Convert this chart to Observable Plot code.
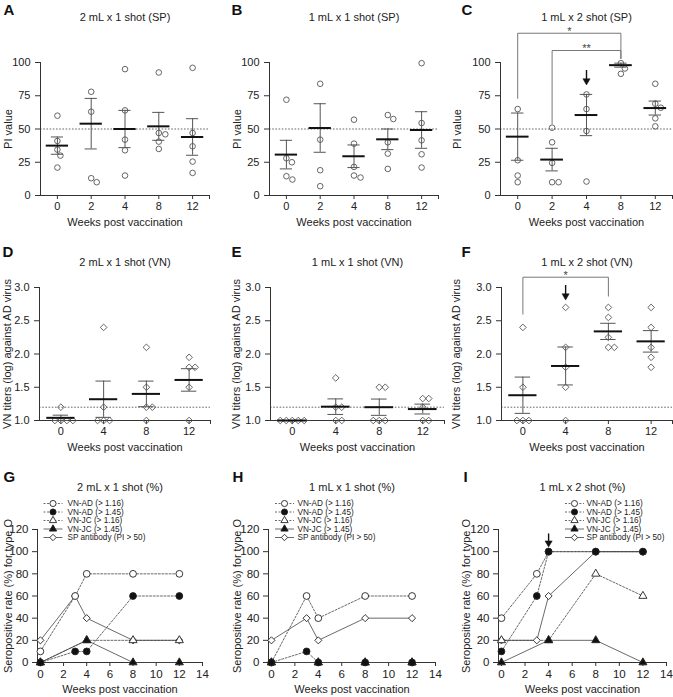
<!DOCTYPE html>
<html><head><meta charset="utf-8">
<script src="https://cdn.jsdelivr.net/npm/d3@7"></script>
<script src="https://cdn.jsdelivr.net/npm/@observablehq/plot@0.6"></script>
<style>
html,body{margin:0;padding:0;background:#fff;}
#wrap{position:relative;width:673px;height:697px;overflow:hidden;background:#fff;}
</style></head><body><div id="wrap"></div>
<script>
const FONT = "'Liberation Sans', Arial, Helvetica, sans-serif";

// ---------------- data ----------------
const spWeeks = ["0", "2", "4", "8", "12"];
const spThreshold = 50;
const spA = [[60, 41, 34.5, 30, 21], [78, 63, 13, 10], [95, 64, 42, 34, 15], [92.5, 47, 46, 40.5, 35], [96, 47, 37, 25.5, 17]];
const spAMean = [37.5, 54, 50, 52, 44];
const spASem = [6.5, 19, 14, 10.5, 13.75];
const spB = [[72, 28, 25, 14.5, 12], [84, 42, 19, 7], [57, 39, 21.5, 15, 13.5], [60.5, 57.5, 40, 31.5, 20], [99.5, 54.5, 41.5, 31, 21]];
const spBMean = [30.75, 50.75, 29.5, 42.25, 49.25];
const spBSem = [10.75, 18.25, 8.5, 7.75, 13.75];
const spC = [[65, 26.5, 15, 10], [51, 40, 24.5, 10, 10], [76, 65, 48.5, 10.5], [99.5, 95.5, 91.5], [84, 69, 66, 58, 52]];
const spCMean = [44.25, 27, 60.5, 98, 65.75];
const spCSem = [17.75, 8.5, 15.5, 1.5, 5.25];

const vnWeeks = ["0", "4", "8", "12"];
const vnThreshold = 1.2;
const vnD = [[1.2, 1, 1, 1, 1], [2.4, 1.2, 1, 1, 1], [2.1, 1.5, 1.2, 1.2, 1], [1.95, 1.8, 1.8, 1.5, 1]];
const vnE = [[1, 1, 1, 1, 1], [1.64, 1.2, 1.2, 1, 1], [1.5, 1.5, 1, 1, 1], [1.33, 1.33, 1.2, 1, 1]];
const vnF = [[2.4, 1.5, 1, 1, 1], [2.7, 2.1, 1.8, 1.5, 1], [2.7, 2.55, 2.25, 2.1, 2.1], [2.7, 2.4, 2.1, 1.95, 1.8]];

const seroWeeksAD = [0, 3, 4, 8, 12];
const seroWeeksJC = [0, 4, 8, 12];
const seroLabels = ["VN-AD (> 1.16)", "VN-AD (> 1.45)", "VN-JC (> 1.16)", "VN-JC (> 1.45)", "SP antibody (PI > 50)"];
const gAdLow = [10, 60, 80, 80, 80];
const gAdHigh = [0, 10, 10, 60, 60];
const gJcLow = [0, 20, 20, 20];
const gJcHigh = [0, 20, 0, 0];
const gSp = [20, 60, 40, 20, 20];
const hAdLow = [0, 60, 40, 60, 60];
const hAdHigh = [0, 10, 0, 0, 0];
const hJcLow = [0, 0, 0, 0];
const hJcHigh = [0, 0, 0, 0];
const hSp = [20, 40, 20, 40, 40];
const iAdLow = [40, 80, 100, 100, 100];
const iAdHigh = [10, 60, 100, 100, 100];
const iJcLow = [20, 20, 80, 60];
const iJcHigh = [0, 20, 20, 0];
const iSp = [20, 20, 60, 100, 100];

const sigC = [{from: 0, to: 3, top: 122, fromEnd: 73, toEnd: 103, label: "*"},
              {from: 1, to: 3, top: 109, fromEnd: 54, toEnd: 103, label: "**"}];
const sigF = [{from: 0, to: 2, top: 3.155, fromEnd: 2.6, toEnd: 2.87, label: "*"}];
const arrowC = {at: 2, top: 94, head: 85.5};
const arrowF = {at: 1, top: 3.03, head: 2.86};
const arrowI = {at: 4, top: 116, head: 107};

// ---------------- layout ----------------
// svg: [left, top, width, height]; frame: [left, top, right, bottom] in page px
const layout = {
  A: {svg: [0, 0, 225, 232], frame: [40, 62, 209, 195], letter: [3, 14], titleY: 17, ylabX: 8},
  B: {svg: [225, 0, 223, 232], frame: [269, 62, 438, 195], letter: [231, 14], titleY: 17, ylabX: 237},
  C: {svg: [448, 0, 225, 232], frame: [500, 62, 672, 195], letter: [461, 14], titleY: 17, ylabX: 457},
  D: {svg: [0, 232, 225, 226], frame: [39, 287, 210, 420], letter: [2, 256], titleY: 262, ylabX: 7},
  E: {svg: [225, 232, 223, 226], frame: [270, 287, 444, 420], letter: [231, 256], titleY: 262, ylabX: 236},
  F: {svg: [448, 232, 225, 226], frame: [501, 287, 672, 420], letter: [461, 256], titleY: 262, ylabX: 456},
  G: {svg: [0, 458, 225, 239], frame: [37, 529, 202, 662], letter: [3, 481], titleY: 487, ylabX: 8, legLine: 52.5, legText: 67, legY: 503},
  H: {svg: [225, 458, 223, 239], frame: [268, 529, 435, 662], letter: [232, 481], titleY: 487, ylabX: 237, legLine: 284, legText: 297, legY: 503},
  I: {svg: [448, 458, 225, 239], frame: [498, 529, 666, 662], letter: [463, 481], titleY: 487, ylabX: 466, legLine: 574, legText: 586, legY: 503}
};

const wrap = document.getElementById("wrap");

function dims(p) {
  const [sx, sy, sw, sh] = p.svg, [fl, ft, fr, fb] = p.frame;
  return {width: sw, height: sh, marginLeft: fl - sx, marginTop: ft - sy, marginRight: sx + sw - fr, marginBottom: sy + sh - fb};
}

function mount(p, chart) {
  chart.style.position = "absolute";
  chart.style.left = p.svg[0] + "px";
  chart.style.top = p.svg[1] + "px";
  wrap.appendChild(chart);
}

function decor(p, letter, title, ylabel) {
  const [fl, ft] = p.frame;
  return [
    Plot.text([letter], {text: d => d, frameAnchor: "top-left", dx: p.letter[0] - fl, dy: p.letter[1] - ft,
      textAnchor: "start", lineAnchor: "bottom", fontWeight: "bold", fontSize: 15, fill: "#111"}),
    Plot.text([title], {text: d => d, frameAnchor: "top", dy: p.titleY - ft, textAnchor: "middle", lineAnchor: "middle", fontSize: 11, fill: "#222"}),
    Plot.text([ylabel], {text: d => d, frameAnchor: "left", dx: p.ylabX - fl, rotate: -90, textAnchor: "middle", lineAnchor: "middle", fontSize: 11, fill: "#222"}),
    Plot.text(["Weeks post vaccination"], {text: d => d, frameAnchor: "bottom", dy: 27, textAnchor: "middle", lineAnchor: "middle", fontSize: 11, fill: "#222"})
  ];
}

function dodge(vals, pxY, minDist) {
  const order = vals.map((_, i) => i).sort((a, b) => vals[b] - vals[a]);
  const placed = [], off = [];
  for (const i of order) {
    const y = vals[i] * pxY;
    let dx = 0;
    for (let k = 0; k < 400; k++) {
      const cands = k === 0 ? [0] : [k * 0.5, -k * 0.5];
      const ok = cands.find(c => placed.every(q => Math.hypot(q.x - c, q.y - y) >= minDist));
      if (ok !== undefined) { dx = ok; break; }
    }
    placed.push({x: dx, y}); off[i] = dx;
  }
  return off;
}

const baseStyle = {fontFamily: FONT, fontSize: "11px", color: "#222", background: "transparent", overflow: "visible"};

function scatterPanel(key, cfg) {
  const p = layout[key];
  const [fl, ft, fr, fb] = p.frame;
  const n = cfg.weeks.length;
  const [ymin, ymax] = cfg.yDomain;
  const pxX = (fr - fl) / n, pxY = (fb - ft) / (ymax - ymin);
  const stats = cfg.means.map((m, i) => ({i, m, lo: m - cfg.sems[i], hi: m + cfg.sems[i]}));
  const pts = cfg.groups.flatMap((vals, i) => {
    const offs = dodge(vals, pxY, cfg.minDist);
    return vals.map((v, j) => ({x: i + offs[j] / pxX, y: v}));
  });
  const idx = d3.range(n);
  const marks = [
    Plot.ruleY([cfg.threshold], {stroke: "#555", strokeWidth: 0.9, strokeDasharray: "1.6,1.6"}),
    Plot.ruleX([-0.5], {stroke: "#333"}),
    Plot.ruleY([ymin], {stroke: "#333"}),
    Plot.axisY({ticks: cfg.yTicks, tickFormat: cfg.yFormat, tickSize: 5, tickPadding: 5, label: null, stroke: "#333", fill: "#222"}),
    Plot.axisX({ticks: [...idx, n - 0.5], tickFormat: i => cfg.weeks[i] ?? "", tickSize: 4, tickPadding: 3, label: null, stroke: "#333", fill: "#222"}),
    Plot.ruleX(stats, {x: "i", y1: "lo", y2: "hi", stroke: "#555", strokeWidth: 1}),
    Plot.ruleY(stats, {y: "hi", x1: d => d.i - 0.18, x2: d => d.i + 0.18, stroke: "#555", strokeWidth: 1}),
    Plot.ruleY(stats, {y: "lo", x1: d => d.i - 0.18, x2: d => d.i + 0.18, stroke: "#555", strokeWidth: 1}),
    Plot.dot(pts, {x: "x", y: "y", symbol: cfg.symbol, r: cfg.r, stroke: "#555", strokeWidth: 0.9, fill: "none"}),
    Plot.ruleY(stats, {y: "m", x1: d => d.i - 0.33, x2: d => d.i + 0.33, stroke: "#111", strokeWidth: 2}),
    ...decor(p, key, cfg.title, cfg.ylabel)
  ];
  if (cfg.sig) {
    const br = cfg.sig.flatMap((s, k) => [
      {k, x: s.from, y: s.fromEnd}, {k, x: s.from, y: s.top}, {k, x: s.to, y: s.top}, {k, x: s.to, y: s.toEnd}]);
    marks.push(Plot.line(br, {x: "x", y: "y", z: "k", stroke: "#777", strokeWidth: 1}));
    marks.push(Plot.text(cfg.sig, {x: d => (d.from + d.to) / 2, y: "top", text: "label", lineAnchor: "middle", dy: -2, fontSize: 11, fill: "#444"}));
  }
  if (cfg.arrow) marks.push(...arrowMarks(cfg.arrow));
  mount(p, Plot.plot({
    ...dims(p), style: baseStyle,
    x: {type: "linear", domain: [-0.5, n - 0.5], axis: null},
    y: {type: "linear", domain: [ymin, ymax], axis: null},
    marks
  }));
}

const downTri = {draw(ctx) { ctx.moveTo(-3.6, -3); ctx.lineTo(3.6, -3); ctx.lineTo(0, 3.2); ctx.closePath(); }};
const legendLine = {draw(ctx) { ctx.moveTo(-9.5, 0); ctx.lineTo(9.5, 0); }};

function arrowMarks(a) {
  return [
    Plot.ruleX([a], {x: "at", y1: "top", y2: "head", stroke: "#111", strokeWidth: 1.4}),
    Plot.dot([a], {x: "at", y: "head", symbol: downTri, fill: "#111", stroke: "#111", strokeWidth: 0.5})
  ];
}

function seroPanel(key, title, adLow, adHigh, jcLow, jcHigh, sp, arrow) {
  const p = layout[key];
  const [fl, ft] = p.frame;
  const dotted = "2,1.6";
  const series = [
    {label: seroLabels[0], weeks: seroWeeksAD, vals: adLow, symbol: "circle", fill: "#fff", dash: dotted, r: 3.4},
    {label: seroLabels[1], weeks: seroWeeksAD, vals: adHigh, symbol: "circle", fill: "#111", dash: dotted, r: 3.4},
    {label: seroLabels[2], weeks: seroWeeksJC, vals: jcLow, symbol: "triangle", fill: "#fff", dash: dotted, r: 3.0},
    {label: seroLabels[3], weeks: seroWeeksJC, vals: jcHigh, symbol: "triangle", fill: "#111", dash: null, r: 3.0},
    {label: seroLabels[4], weeks: seroWeeksAD, vals: sp, symbol: "diamond2", fill: "#fff", dash: null, r: 3.2}
  ];
  const rows = s => s.weeks.map((w, k) => ({x: w, y: s.vals[k]}));
  const marks = [
    Plot.ruleX([-0.25], {stroke: "#333"}),
    Plot.ruleY([0], {stroke: "#333"}),
    Plot.axisY({ticks: d3.range(0, 121, 20), tickSize: 5, tickPadding: 4, label: null, stroke: "#333", fill: "#222", fontSize: 11.5}),
    Plot.axisX({ticks: d3.range(0, 15, 2), tickSize: 4, tickPadding: 3, label: null, stroke: "#333", fill: "#222", fontSize: 11.5}),
    ...series.map(s => Plot.line(rows(s), {x: "x", y: "y", stroke: "#444", strokeWidth: 0.8, strokeDasharray: s.dash})),
    ...[4, 2, 3, 0, 1].map(k => Plot.dot(rows(series[k]), {x: "x", y: "y", symbol: series[k].symbol, r: series[k].r,
      fill: series[k].fill, stroke: "#222", strokeWidth: 0.9})),
    ...decor(p, key, title, "Seropositive rate (%) for type O")
  ];
  series.forEach((s, k) => {
    const dy = p.legY + k * 8.5 - ft;
    marks.push(Plot.dot([s], {frameAnchor: "top-left", dx: p.legLine - fl, dy, symbol: legendLine, fill: "none", stroke: "#444", strokeWidth: 0.8, strokeDasharray: s.dash}));
    marks.push(Plot.dot([s], {frameAnchor: "top-left", dx: p.legLine - fl, dy, symbol: s.symbol, r: s.r * 0.9, fill: s.fill, stroke: "#222", strokeWidth: 0.9}));
    marks.push(Plot.text([s], {frameAnchor: "top-left", dx: p.legText - fl, dy, text: "label", textAnchor: "start", lineAnchor: "middle", fontSize: 8.2, fill: "#222"}));
  });
  if (arrow) marks.push(...arrowMarks(arrow));
  mount(p, Plot.plot({
    ...dims(p), style: baseStyle,
    x: {type: "linear", domain: [-0.25, 14], axis: null},
    y: {type: "linear", domain: [0, 120], axis: null},
    marks
  }));
}

const spCommon = {weeks: spWeeks, yDomain: [0, 100], yTicks: [0, 25, 50, 75, 100], yFormat: d3.format("d"),
  threshold: spThreshold, symbol: "circle", r: 2.8, minDist: 6.5, ylabel: "PI value"};
const vnStats = g => ({means: g.map(v => d3.mean(v)), sems: g.map(v => (d3.deviation(v) || 0) / Math.sqrt(v.length))});
const vnCommon = {weeks: vnWeeks, yDomain: [1, 3], yTicks: [1, 1.5, 2, 2.5, 3], yFormat: d3.format(".1f"),
  threshold: vnThreshold, symbol: "diamond2", r: 3, minDist: 6, ylabel: "VN titers (log) against AD virus"};

scatterPanel("A", {...spCommon, groups: spA, means: spAMean, sems: spASem, title: "2 mL x 1 shot (SP)"});
scatterPanel("B", {...spCommon, groups: spB, means: spBMean, sems: spBSem, title: "1 mL x 1 shot (SP)"});
scatterPanel("C", {...spCommon, groups: spC, means: spCMean, sems: spCSem, title: "1 mL x 2 shot (SP)", sig: sigC, arrow: arrowC});
scatterPanel("D", {...vnCommon, groups: vnD, ...vnStats(vnD), title: "2 mL x 1 shot (VN)"});
scatterPanel("E", {...vnCommon, groups: vnE, ...vnStats(vnE), title: "1 mL x 1 shot (VN)"});
scatterPanel("F", {...vnCommon, groups: vnF, ...vnStats(vnF), title: "1 mL x 2 shot (VN)", sig: sigF, arrow: arrowF});
seroPanel("G", "2 mL x 1 shot (%)", gAdLow, gAdHigh, gJcLow, gJcHigh, gSp);
seroPanel("H", "1 mL x 1 shot (%)", hAdLow, hAdHigh, hJcLow, hJcHigh, hSp);
seroPanel("I", "1 mL x 2 shot (%)", iAdLow, iAdHigh, iJcLow, iJcHigh, iSp, arrowI);
</script></body></html>
